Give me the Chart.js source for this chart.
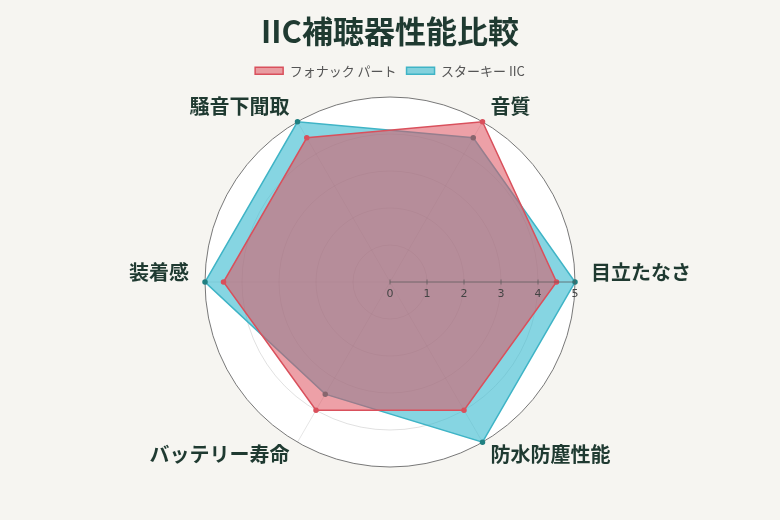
<!DOCTYPE html>
<html lang="ja">
<head>
<meta charset="utf-8">
<title>IIC補聴器性能比較</title>
<script src="https://cdn.jsdelivr.net/npm/chart.js@4/dist/chart.umd.min.js"></script>
<style>
	html, body {
		margin: 0;
		padding: 0;
		background: #f6f5f1;
	}
	#wrap {
		width: 780px;
		height: 520px;
	}
</style>
</head>
<body>
<div id="wrap"><canvas id="radar_chart" width="780" height="520"></canvas></div>
<script>
const labels = ['目立たなさ', '防水防塵性能', 'バッテリー寿命', '装着感', '騒音下聞取', '音質'];
const phonakValues = [4.5, 4, 4, 4.5, 4.5, 5];
const starkeyValues = [5, 5, 3.5, 5, 5, 4.5];
const tickValues = [0, 1, 2, 3, 4, 5];
const tickMax = 5;

const labelFont = 'bold 20px "Noto Sans CJK JP", sans-serif';
const labelColor = '#1f3a31';

function buildDatasets() {
	return [{
		label: 'フォナック パート',
		data: phonakValues,
		backgroundColor: 'rgba(222, 82, 94, 0.55)',
		borderColor: '#d9505c',
		borderWidth: 1.5,
		pointBackgroundColor: '#d9505c',
		pointBorderColor: '#d9505c',
		pointRadius: 2
	}, {
		label: 'スターキー IIC',
		data: starkeyValues,
		backgroundColor: 'rgba(60, 188, 208, 0.62)',
		borderColor: '#3fb4c6',
		borderWidth: 1.5,
		pointBackgroundColor: '#1f7f80',
		pointBorderColor: '#1f7f80',
		pointRadius: 2
	}];
}

// upright tick labels along the horizontal axis (Chart.js would rotate them with startAngle)
const axisTicks = {
	id: 'axisTicks',
	afterDatasetsDraw(chart) {
		const scale = chart.scales.r;
		const ctx = chart.ctx;
		const cx = scale.xCenter;
		const cy = scale.yCenter;
		ctx.save();
		ctx.strokeStyle = 'rgba(90, 90, 90, 0.7)';
		ctx.lineWidth = 1;
		ctx.beginPath();
		ctx.moveTo(cx, cy);
		ctx.lineTo(cx + scale.getDistanceFromCenterForValue(tickMax), cy);
		ctx.stroke();
		ctx.fillStyle = '#444';
		ctx.font = '11px "DejaVu Sans", sans-serif';
		ctx.textAlign = 'center';
		ctx.textBaseline = 'top';
		tickValues.forEach(v => {
			const x = cx + scale.getDistanceFromCenterForValue(v);
			ctx.beginPath();
			ctx.moveTo(x, cy - 2.5);
			ctx.lineTo(x, cy + 2.5);
			ctx.stroke();
			ctx.fillText(String(v), x, cy + 7);
		});
		ctx.restore();
	}
};

// category names drawn outside the chart area so the circle keeps its size
const outerLabels = {
	id: 'outerLabels',
	afterDraw(chart) {
		const scale = chart.scales.r;
		const ctx = chart.ctx;
		ctx.save();
		ctx.font = labelFont;
		ctx.fillStyle = labelColor;
		ctx.textBaseline = 'middle';
		labels.forEach((name, i) => {
			const p = scale.getPointPosition(i, scale.drawingArea + 16);
			const dx = p.x - scale.xCenter;
			const dy = p.y - scale.yCenter;
			ctx.textAlign = dx > 1 ? 'left' : (dx < -1 ? 'right' : 'center');
			// side labels sit a little above the axis
			const lift = Math.abs(dy) < 1 ? 10 : 2;
			ctx.fillText(name, p.x, p.y - lift);
		});
		ctx.restore();
	}
};

window.onload = function() {
	new Chart(document.getElementById('radar_chart'), {
		type: 'radar',
		data: {
			labels,
			datasets: buildDatasets()
		},
		plugins: [axisTicks, outerLabels],
		options: {
			responsive: false,
			animation: false,
			layout: {
				padding: { top: 8, bottom: 43, left: 205, right: 205 }
			},
			plugins: {
				title: {
					display: true,
					text: 'IIC補聴器性能比較',
					color: '#1f3a31',
					font: { family: '"Noto Sans CJK JP", sans-serif', size: 31, weight: 'bold' },
					padding: { top: 5, bottom: 4 }
				},
				legend: {
					labels: {
						boxWidth: 28,
						boxHeight: 7,
						color: '#555',
						font: { family: '"Noto Sans CJK JP", sans-serif', size: 13 }
					}
				},
				tooltip: { enabled: false }
			},
			scales: {
				r: {
					min: 0,
					max: tickMax,
					startAngle: 90,
					backgroundColor: '#ffffff',
					ticks: {
						stepSize: 1,
						display: false
					},
					grid: {
						circular: true,
						color: ctx => ctx.tick && ctx.tick.value === tickMax ? '#777' : 'rgba(0,0,0,0.12)'
					},
					angleLines: {
						color: 'rgba(0,0,0,0.1)'
					},
					pointLabels: {
						display: false
					}
				}
			}
		}
	});
};
</script>
</body>
</html>
